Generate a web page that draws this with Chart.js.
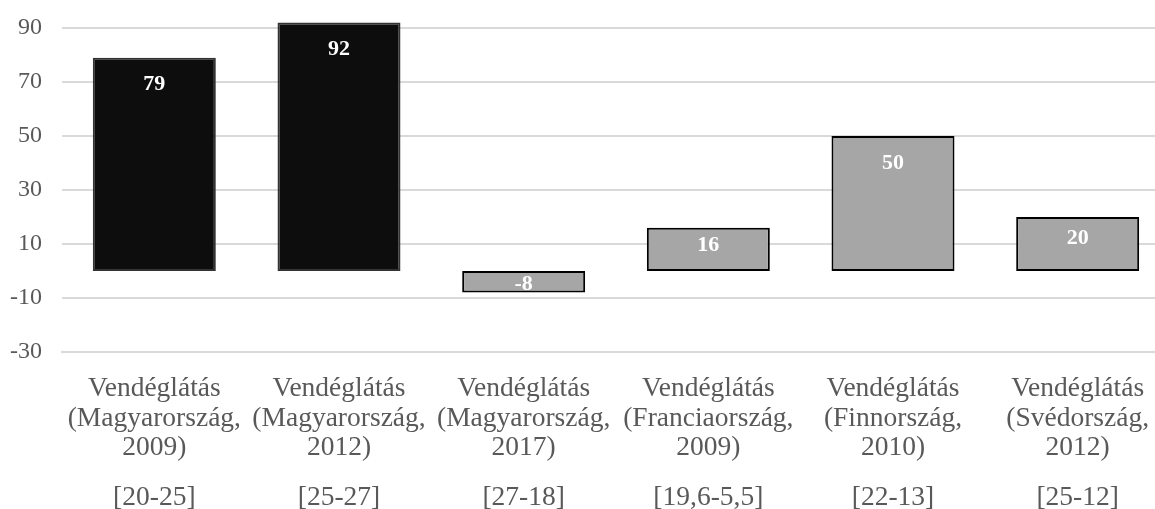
<!DOCTYPE html>
<html>
<head>
<meta charset="utf-8">
<script src="https://cdn.jsdelivr.net/npm/chart.js@4/dist/chart.umd.min.js"></script>
<style>
  html, body { margin: 0; padding: 0; background: #fff; overflow: hidden; }
  #wrap { width: 1170px; height: 509px; position: relative; }
</style>
</head>
<body>
<div id="wrap"><canvas id="chart"></canvas></div>
<script>
// === Data ===
const sectors = ['Vendéglátás', 'Vendéglátás', 'Vendéglátás', 'Vendéglátás', 'Vendéglátás', 'Vendéglátás'];
const places = ['(Magyarország,', '(Magyarország,', '(Magyarország,', '(Franciaország,', '(Finnország,', '(Svédország,'];
const years = ['2009)', '2012)', '2017)', '2009)', '2010)', '2012)'];
const ranges = ['[20-25]', '[25-27]', '[27-18]', '[19,6-5,5]', '[22-13]', '[25-12]'];
const values = [79, 92, -8, 16, 50, 20];
const yTicks = [-30, -10, 10, 30, 50, 70, 90];

const labels = sectors.map((s, i) => [s, places[i], years[i]]);
const barColors = values.map((v, i) => i < 2 ? '#0d0d0d' : '#a6a6a6');
const edgeColors = values.map((v, i) => i < 2 ? '#333333' : '#000000');
const serif = '"Liberation Serif", "Times New Roman", serif';
const lineH = 29.5;

// === Value labels inside bar ends ===
const insideLabels = {
  id: 'insideLabels',
  afterDatasetsDraw(chart) {
    const ctx = chart.ctx;
    const meta = chart.getDatasetMeta(0);
    ctx.save();
    ctx.fillStyle = '#ffffff';
    ctx.font = 'bold 22px ' + serif;
    ctx.textAlign = 'center';
    ctx.textBaseline = 'middle';
    meta.data.forEach((bar, i) => {
      const h = Math.abs(bar.base - bar.y);
      const dir = bar.y < bar.base ? 1 : -1;
      const off = Math.min(27, h * 0.4);
      ctx.fillText(String(values[i]), bar.x, bar.y + dir * off);
    });
    ctx.restore();
  }
};

function flatSides(axis) {
  axis.paddingLeft = 0;
  axis.paddingRight = 0;
}

new Chart(document.getElementById('chart'), {
  type: 'bar',
  data: {
    labels,
    datasets: [{
      data: values,
      xAxisID: 'x',
      backgroundColor: barColors,
      borderColor: edgeColors,
      borderWidth: 2,
      borderSkipped: false,
      categoryPercentage: 1,
      barPercentage: 0.666
    }]
  },
  options: {
    responsive: true,
    maintainAspectRatio: false,
    animation: false,
    layout: { padding: { left: 0, top: 14.5, right: 0, bottom: 0 } },
    plugins: {
      legend: { display: false },
      tooltip: { enabled: false }
    },
    scales: {
      x: {
        grid: { display: false, drawTicks: false },
        border: { display: true, color: '#d9d9d9', width: 2 },
        ticks: {
          color: '#595959',
          padding: 22.25,
          maxRotation: 0,
          autoSkip: false,
          font: { family: serif, size: 27.5, lineHeight: lineH + 'px' }
        },
        afterFit(axis) { axis.height = 22.25 + 3 * lineH; flatSides(axis); }
      },
      x2: {
        type: 'category',
        labels: ranges,
        position: 'bottom',
        grid: { display: false, drawTicks: false },
        border: { display: false },
        ticks: {
          color: '#595959',
          padding: 20,
          maxRotation: 0,
          autoSkip: false,
          font: { family: serif, size: 27.5, lineHeight: lineH + 'px' }
        },
        afterFit(axis) { axis.height = 46.25; flatSides(axis); }
      },
      y: {
        min: -30,
        max: 95,
        afterBuildTicks(axis) {
          axis.ticks = yTicks.map(v => ({ value: v }));
        },
        afterFit(axis) {
          axis.width = 62;
          axis.paddingTop = 0;
          axis.paddingBottom = 0;
        },
        grid: { color: '#d9d9d9', lineWidth: 2, drawTicks: false },
        border: { display: false },
        ticks: {
          color: '#595959',
          padding: 20,
          font: { family: serif, size: 24 }
        }
      }
    }
  },
  plugins: [insideLabels]
});
</script>
</body>
</html>
